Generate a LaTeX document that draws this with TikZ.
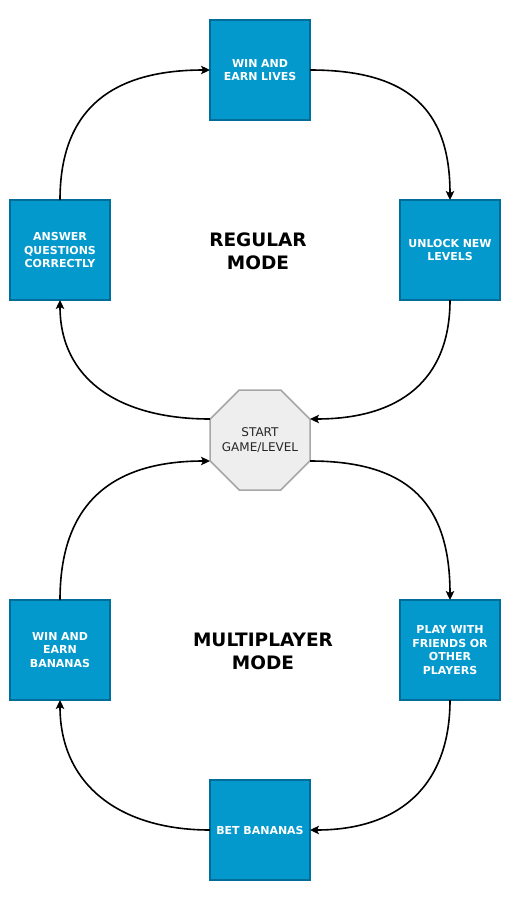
\documentclass[tikz,border=0pt]{standalone}
\usepackage{fontspec}
\setmainfont{DejaVu Sans}
\usetikzlibrary{shapes.geometric,arrows.meta}
\definecolor{boxfill}{HTML}{0399CC}
\definecolor{boxline}{HTML}{006E99}
\definecolor{octfill}{HTML}{EEEEEE}
\definecolor{octline}{HTML}{A6A6A6}
\begin{document}
\begin{tikzpicture}[x=1pt,y=-1pt,
  stepbox/.style={draw=boxline, fill=boxfill, line width=1.5pt, minimum size=100pt,
    inner sep=0pt, outer sep=0pt, text=white, font=\bfseries\fontsize{11}{13.8}\selectfont,
    align=center, text width=96pt},
  octa/.style={regular polygon, regular polygon sides=8, minimum size=108.24pt,
    inner sep=0pt, outer sep=0pt, draw=octline, fill=octfill, line width=1.5pt},
  octtext/.style={font=\fontsize{12}{14.5}\selectfont, align=center, text=black!85, inner sep=0pt},
  modelabel/.style={font=\bfseries\fontsize{18.5}{23}\selectfont, align=center},
  conn/.style={line width=1.6pt, -{Stealth[length=9pt,width=8.5pt,inset=2pt]}}]
\fill[white] (0,0) rectangle (520,900);
\useasboundingbox (0,0) rectangle (520,900);

\node[stepbox] (top) at (260,70) {WIN AND\\EARN LIVES};
\node[stepbox] (left) at (60,250) {ANSWER\\QUESTIONS\\CORRECTLY};
\node[stepbox] (right) at (450,250) {UNLOCK NEW\\LEVELS};
\node[octa] (oct) at (260,440) {};
\node[octtext] (octlabel) at (oct.center) {START\\GAME/LEVEL};
\node[stepbox] (left2) at (60,650) {WIN AND\\EARN\\BANANAS};
\node[stepbox] (right2) at (450,650) {PLAY WITH\\FRIENDS OR\\OTHER\\PLAYERS};
\node[stepbox] (bottom) at (260,830) {BET BANANAS};

\node[modelabel] (regular) at (258,251) {REGULAR\\MODE};
\node[modelabel] (multi) at (263,651) {MULTIPLAYER\\MODE};

\draw[conn] (top.east) .. controls +(98,0) and +(0,-91) .. (right.north);
\draw[conn] (right.south) .. controls +(0,80) and +(90,0) .. ([yshift=21pt]oct.east);
\draw[conn] ([yshift=21pt]oct.west) .. controls +(-90,0) and +(0,80) .. (left.south);
\draw[conn] (left.north) .. controls +(0,-91) and +(-98,0) .. (top.west);

\draw[conn] (left2.north) .. controls +(0,-95) and +(-100,0) .. ([yshift=-21pt]oct.west);
\draw[conn] ([yshift=-21pt]oct.east) .. controls +(100,0) and +(0,-95) .. (right2.north);
\draw[conn] (right2.south) .. controls +(0,85) and +(90,0) .. (bottom.east);
\draw[conn] (bottom.west) .. controls +(-90,0) and +(0,85) .. (left2.south);
\end{tikzpicture}
\end{document}
